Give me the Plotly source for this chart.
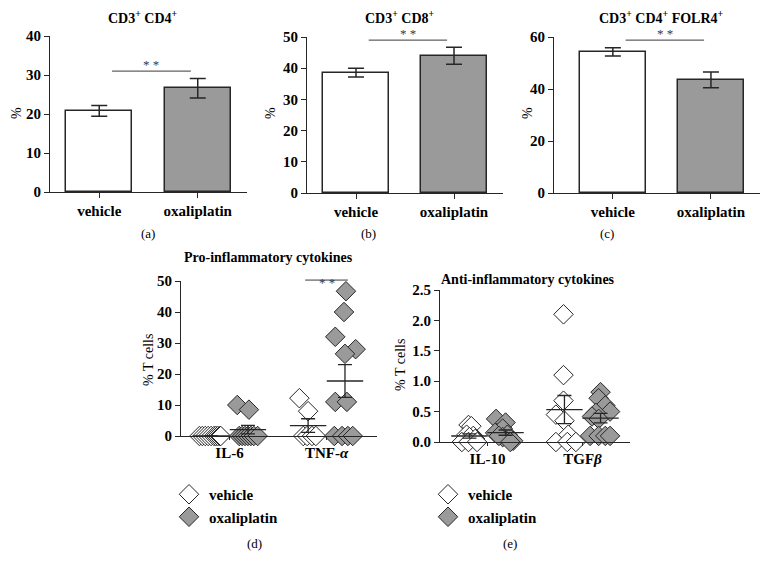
import numpy as np
import plotly.graph_objects as go

# page has an 8px body margin, so the figure is drawn 8px in from the corner
PAGE_W, PAGE_H, OFF = 768, 570, 8
W, H = PAGE_W - OFF, PAGE_H - 2 * OFF
FONT = "Liberation Serif"
GREY = "#9a9a9a"
INK = "#262626"

# bar panels (mean, SEM)
groups = ["vehicle", "oxaliplatin"]
cd4_mean = [20.8, 26.6]
cd4_sem = [1.4, 2.5]
cd8_mean = [38.6, 44.0]
cd8_sem = [1.4, 2.7]
folr4_mean = [54.3, 43.5]
folr4_sem = [1.6, 3.0]

# dot panels, individual mice
pro_cats = ["IL-6", "TNF-<i>α</i>"]
il6_veh = [0, 0, 0, 0, 0, 0, 0, 0, 0, 0]
il6_oxa = [10, 8.5, 0, 0, 0, 0, 0, 0, 0]
tnf_veh = [12.2, 8.0, 0, 0, 0, 0]
tnf_oxa = [46.7, 40, 32, 28, 26.5, 11, 11, 0, 0, 0, 0]

anti_cats = ["IL-10", "TGF<i>β</i>"]
il10_veh = [0.28, 0.26, 0.12, 0.1, 0.08, 0.05, 0, 0, 0]
il10_oxa = [0.38, 0.32, 0.22, 0.15, 0.12, 0.08, 0.1, 0.02, 0.0]
tgf_veh = [2.1, 1.1, 0.68, 0.45, 0.35, 0.12, 0, 0, 0]
tgf_oxa = [0.82, 0.72, 0.6, 0.5, 0.48, 0.42, 0.38, 0.1, 0.1, 0.1, 0.1]

# horizontal scatter of the dots around each category
il6_veh_dx = [-0.31, -0.28, -0.25, -0.22, -0.19, -0.16, -0.14, -0.12, -0.10, -0.09]
il6_oxa_dx = [0.08, 0.2, 0.1, 0.13, 0.16, 0.19, 0.22, 0.25, 0.29]
tnf_veh_dx = [-0.28, -0.19, -0.24, -0.2, -0.15, -0.11]
tnf_oxa_dx = [0.2, 0.18, 0.09, 0.3, 0.19, 0.09, 0.21, 0.08, 0.16, 0.22, 0.27]
il10_veh_dx = [-0.2, -0.17, -0.22, -0.15, -0.19, -0.13, -0.27, -0.2, -0.11]
il10_oxa_dx = [0.09, 0.19, 0.16, 0.08, 0.21, 0.16, 0.12, 0.27, 0.24]
tgf_veh_dx = [-0.2, -0.2, -0.2, -0.28, -0.19, -0.15, -0.28, -0.16, -0.07]
tgf_oxa_dx = [0.19, 0.17, 0.24, 0.29, 0.14, 0.1, 0.17, 0.08, 0.17, 0.24, 0.29]


def px(x):
    return (x - OFF) / W


def py(y):
    return 1 - (y - OFF) / H


def xdom(p0, p1):
    return [px(p0), px(p1)]


def ydom(top, bottom):
    return [py(bottom), py(top)]


def sem(v):
    return np.std(v, ddof=1) / np.sqrt(len(v))


def paper_text(text, xpx, ypx, size=14, angle=0):
    fig.add_annotation(x=px(xpx), y=py(ypx), xref="paper", yref="paper",
                       xanchor="center", yanchor="middle",
                       text=text, showarrow=False, textangle=angle,
                       font=dict(family=FONT, size=size, color="black"))


tickfont = dict(family=FONT, size=15, color="black", weight="bold")
axcommon = dict(showline=True, linecolor=INK, linewidth=1, ticks="outside",
                ticklen=5, tickcolor=INK, showgrid=False, zeroline=False,
                tickfont=tickfont, automargin=False)
SIGC = "#3a3a3a"
starfont = dict(family=FONT, size=13, color=SIGC)

fig = go.Figure()

# ---- bar panels ----
bar_panels = [
    ("", cd4_mean, cd4_sem, 40, 10, 31.0, "CD3<sup>+</sup> CD4<sup>+</sup>",
     (50, 247), (36, 192), [-0.5, 1.5], 143, 16),
    ("2", cd8_mean, cd8_sem, 50, 10, 49.0, "CD3<sup>+</sup> CD8<sup>+</sup>",
     (307, 503), (37, 193), [-0.5, 1.5], 400, 270),
    ("3", folr4_mean, folr4_sem, 60, 20, 58.8,
     "CD3<sup>+</sup> CD4<sup>+</sup> FOLR4<sup>+</sup>",
     (554, 760), (37, 193), [-0.6, 1.5], 661, 527),
]

for sfx, m, s, ymax, dt, sig, title, xp, yp, xr, title_x, ylab_x in bar_panels:
    fig.add_trace(go.Bar(
        x=[0, 1], y=m, width=0.67,
        marker=dict(color=["white", GREY], line=dict(color=INK, width=1.5)),
        error_y=dict(type="data", array=s, color=INK, thickness=1.5, width=8),
        xaxis="x" + sfx, yaxis="y" + sfx, showlegend=False))
    fig.update_layout(**{
        "xaxis" + sfx: dict(axcommon, domain=xdom(*xp), range=xr,
                            tickvals=[0, 1], ticktext=groups, anchor="y" + sfx),
        "yaxis" + sfx: dict(axcommon, domain=ydom(*yp), range=[0, ymax],
                            dtick=dt, anchor="x" + sfx),
    })
    fig.add_shape(type="line", xref="x" + sfx, yref="y" + sfx,
                  x0=0.13, x1=0.93, y0=sig, y1=sig,
                  line=dict(color=SIGC, width=1))
    fig.add_annotation(x=0.53, y=sig, xref="x" + sfx, yref="y" + sfx,
                       text="* *", showarrow=False, yshift=7, font=starfont)
    paper_text("<b>" + title + "</b>", title_x, 17)
    paper_text("%", ylab_x, 113, angle=-90)

for tag, xpx in [("(a)", 148), ("(b)", 368), ("(c)", 607)]:
    paper_text(tag, xpx, 233, size=13)

# ---- dot panels ----
dot_panels = [
    ("4", "legend", pro_cats, [il6_veh, tnf_veh], [il6_oxa, tnf_oxa],
     [il6_veh_dx, tnf_veh_dx], [il6_oxa_dx, tnf_oxa_dx],
     (181, 377), (281, 436), [-0.5, 1.52], [0, 50], 10, 50.3, (0.78, 1.22)),
    ("5", "legend2", anti_cats, [il10_veh, tgf_veh], [il10_oxa, tgf_oxa],
     [il10_veh_dx, tgf_veh_dx], [il10_oxa_dx, tgf_oxa_dx],
     (440, 630), (290, 442), [-0.5, 1.5], [0, 2.5], 0.5, None, None),
]

for sfx, leg, cats, veh, oxa, vdx, odx, xp, yp, xr, yr, dt, sig, sigx in dot_panels:
    for name, data, dxs, fill in [("vehicle", veh, vdx, "white"),
                                  ("oxaliplatin", oxa, odx, GREY)]:
        xs, ys = [], []
        for i, (vals, dx) in enumerate(zip(data, dxs)):
            xs += [i + d for d in dx]
            ys += list(vals)
        fig.add_trace(go.Scatter(
            x=xs, y=ys, mode="markers", name=name, legend=leg,
            marker=dict(symbol="diamond", size=15, color=fill,
                        line=dict(color=INK, width=1)),
            cliponaxis=False, xaxis="x" + sfx, yaxis="y" + sfx))
    for data, off in [(veh, -0.19), (oxa, 0.19)]:
        fig.add_trace(go.Scatter(
            x=[i + off for i in range(len(data))],
            y=[np.mean(v) for v in data], mode="markers",
            marker=dict(symbol="line-ew", size=26,
                        line=dict(color=INK, width=1.3)),
            error_y=dict(type="data", array=[sem(v) for v in data],
                         color=INK, thickness=1.3, width=7),
            cliponaxis=False, showlegend=False,
            xaxis="x" + sfx, yaxis="y" + sfx))
    fig.update_layout(**{
        "xaxis" + sfx: dict(axcommon, domain=xdom(*xp), range=xr,
                            tickvals=[0, 1], ticktext=cats, anchor="y" + sfx,
                            ticklen=3),
        "yaxis" + sfx: dict(axcommon, domain=ydom(*yp), range=yr, dtick=dt,
                            anchor="x" + sfx,
                            tickformat=".1f" if dt < 1 else None),
    })
    if sig is not None:
        fig.add_shape(type="line", xref="x" + sfx, yref="y" + sfx + " domain",
                      x0=sigx[0], x1=sigx[1], y0=sig / yr[1], y1=sig / yr[1],
                      line=dict(color=SIGC, width=1))
        fig.add_annotation(x=1, y=sig / yr[1], xref="x" + sfx,
                           yref="y" + sfx + " domain", text="* *",
                           showarrow=False, yshift=7, font=starfont)

paper_text("<b>Pro-inflammatory cytokines</b>", 268, 258)
paper_text("<b>Anti-inflammatory cytokines</b>", 528, 279)
paper_text("% T cells", 148, 360, angle=-90)
paper_text("% T cells", 400, 365, angle=-90)
paper_text("(d)", 254, 543, size=13)
paper_text("(e)", 510, 543, size=13)

legfont = dict(family=FONT, size=15, color="black", weight="bold")
fig.update_layout(
    width=W, height=H, autosize=False,
    margin=dict(l=0, r=0, t=0, b=0, autoexpand=False),
    plot_bgcolor="white", paper_bgcolor="white",
    bargap=0,
    legend=dict(x=px(169), y=py(478), xanchor="left", yanchor="top",
                font=legfont, bgcolor="rgba(0,0,0,0)", tracegroupgap=0,
                itemwidth=30),
    legend2=dict(x=px(428), y=py(478), xanchor="left", yanchor="top",
                 font=legfont, bgcolor="rgba(0,0,0,0)", tracegroupgap=0,
                 itemwidth=30),
)

fig.write_html("out.html")
